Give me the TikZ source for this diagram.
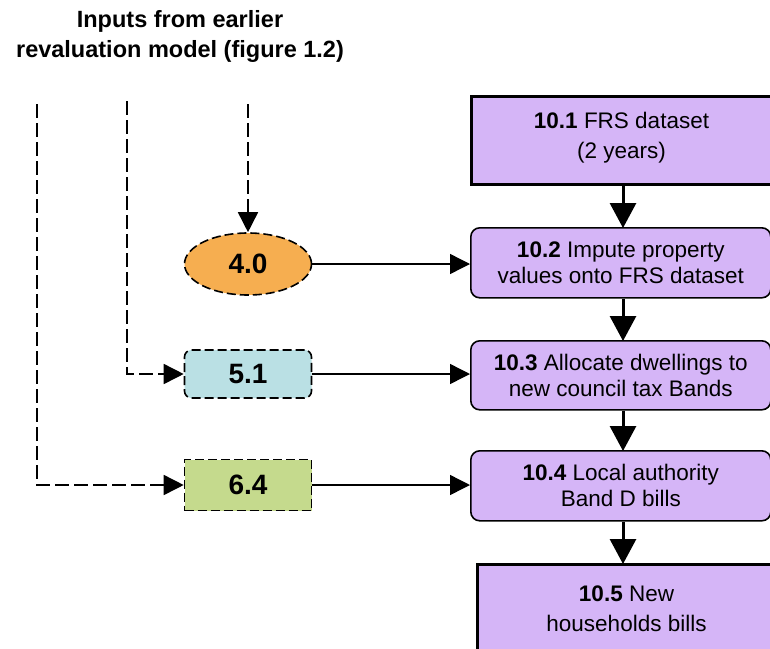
\documentclass[tikz,border=0pt]{standalone}
\usepackage{fontspec}
\setmainfont{Liberation Sans}
\usetikzlibrary{arrows.meta,shapes.geometric}
\definecolor{lav}{HTML}{D5B5F7}
\definecolor{orng}{HTML}{F6AE50}
\definecolor{teal}{HTML}{BAE0E4}
\definecolor{grn}{HTML}{C5DA8D}
\tikzset{
  stage/.style={draw, fill=lav, line width=1.6pt, rounded corners=9pt, minimum width=300pt, inner sep=0pt, align=center, font=\fontsize{22.5}{26}\selectfont},
  endstage/.style={draw, fill=lav, line width=3pt, minimum width=300pt, inner sep=0pt, align=center, font=\fontsize{22.5}{30}\selectfont},
  input/.style={draw, dashed, dash pattern=on 9pt off 4pt, line width=1.6pt, minimum width=127pt, inner sep=0pt, font=\bfseries\fontsize{28}{30}\selectfont},
  feed/.style={line width=1.4pt, -{Triangle[width=20pt,length=20pt]}},
  link/.style={dashed, dash pattern=on 14pt off 5pt, line width=1.6pt, -{Triangle[width=20pt,length=20pt]}},
  flow/.style={line width=3pt, -{Triangle[width=26pt,length=25pt]}, shorten >=-1pt}
}
\begin{document}
\begin{tikzpicture}[x=1pt,y=-1pt]
\useasboundingbox (0,0) rectangle (770,648);

\node[font=\bfseries\fontsize{23.5}{30}\selectfont, align=center] (title) at (180,36) {Inputs from earlier\\revaluation model (figure 1.2)};

% main chain
\node[endstage, minimum height=88pt, anchor=north west, text depth=11pt] (s1) at (470,95) {\textbf{10.1} FRS dataset\\(2 years)};
\node[stage, minimum height=70pt, anchor=north west] (s2) at (470,227) {\textbf{10.2} Impute property\\values onto FRS dataset};
\node[stage, minimum height=69pt, anchor=north west] (s3) at (470,340) {\textbf{10.3} Allocate dwellings to\\new council tax Bands};
\node[stage, minimum height=70pt, anchor=north west] (s4) at (470,450) {\textbf{10.4} Local authority\\Band D bills};
\node[endstage, minimum width=298pt, minimum height=88pt, anchor=north west] (s5) at (476,563) {\textbf{10.5} New\\households bills};

% inputs
\node[input, ellipse, fill=orng, minimum height=62pt] (i40) at (248,264) {4.0};
\node[input, fill=teal, rounded corners=7pt, minimum height=48pt] (i51) at (248,374) {5.1};
\node[input, fill=grn, minimum height=51pt] (i64) at (248,485) {6.4};

% dashed feeds from the earlier model
\coordinate (c1) at (248,104);
\coordinate (c2) at (127,101);
\coordinate (c3) at (37,104);
\draw[link] (c1) -- (i40.north);
\draw[link] (c2) |- (i51.west);
\draw[link] (c3) |- (i64.west);

% inputs into the chain
\draw[feed] (i40.east) -- (s2.west |- i40.east);
\draw[feed] (i51.east) -- (s3.west |- i51.east);
\draw[feed] (i64.east) -- (s4.west |- i64.east);

% chain arrows
\draw[flow] (s1.south -| 623,0) -- (s2.north -| 623,0);
\draw[flow] (s2.south -| 623,0) -- (s3.north -| 623,0);
\draw[flow] (s3.south -| 623,0) -- (s4.north -| 623,0);
\draw[flow] (s4.south -| 623,0) -- (s5.north -| 623,0);
\end{tikzpicture}
\end{document}
